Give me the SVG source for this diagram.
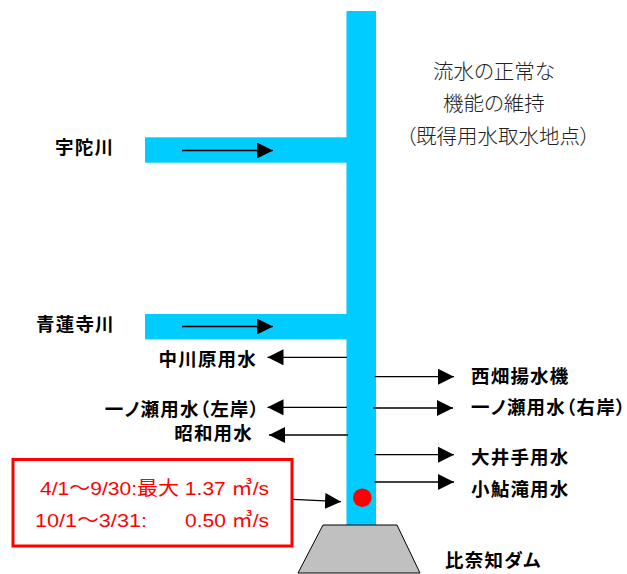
<svg xmlns="http://www.w3.org/2000/svg" width="627" height="574" viewBox="0 0 627 574">
<style>
.river{fill:#00ccff}
.lbl{font-family:"Noto Sans CJK JP","Liberation Sans",sans-serif;font-size:18.5px;letter-spacing:1.2px;font-weight:bold;fill:#000;font-feature-settings:"palt"}
.note{font-family:"Noto Sans CJK JP","Liberation Serif",serif;font-size:20.5px;font-weight:300;fill:#222;font-feature-settings:"palt"}
.red{font-family:"Liberation Sans","Noto Sans CJK JP",sans-serif;font-size:19px;fill:#ff0000}
.arr{stroke:#000;stroke-width:1.3;fill:none;marker-end:url(#ah)}
</style>
<defs>
<marker id="ah" markerUnits="userSpaceOnUse" markerWidth="17" markerHeight="17" refX="16" refY="8" orient="auto">
<path d="M0,0 L16,8 L0,16 z" fill="#000"/>
</marker>
</defs>
<g id="main-river">
<rect class="river" x="346.5" y="11" width="29.5" height="514"/>
</g>
<g id="udagawa">
<rect class="river" x="145" y="137.3" width="203" height="25.4"/>
<text class="lbl" x="55" y="154">宇陀川</text>
</g>
<g id="shorenjigawa">
<rect class="river" x="145" y="314" width="203" height="25.4"/>
<text class="lbl" x="36" y="331">青蓮寺川</text>
</g>
<g id="note">
<text class="note" x="494" y="78.5" text-anchor="middle">流水の正常な</text>
<text class="note" x="494" y="111" text-anchor="middle">機能の維持</text>
<text class="note" x="498" y="143.5" text-anchor="middle">（既得用水取水地点）</text>
</g>
<g id="nakagawara"><text class="lbl" x="257" y="366" text-anchor="end">中川原用水</text></g>
<g id="ichinose-left"><text class="lbl" x="260" y="416" text-anchor="end">一ノ瀬用水（左岸）</text></g>
<g id="showa"><text class="lbl" x="253" y="439.5" text-anchor="end">昭和用水</text></g>
<g id="nishihata"><text class="lbl" x="471" y="382.5">西畑揚水機</text></g>
<g id="ichinose-right"><text class="lbl" x="471" y="414">一ノ瀬用水（右岸）</text></g>
<g id="oide"><text class="lbl" x="471" y="463.5">大井手用水</text></g>
<g id="koayutaki"><text class="lbl" x="471" y="495.5">小鮎滝用水</text></g>
<g id="flow-box">
<rect x="13" y="459.5" width="279" height="86.5" fill="#fff" stroke="#ff0000" stroke-width="3"/>
<text class="red" y="495"><tspan x="40" textLength="229" lengthAdjust="spacingAndGlyphs">4/1～9/30:最大 1.37 ㎥/s</tspan></text>
<text class="red" y="527"><tspan x="35" textLength="112" lengthAdjust="spacingAndGlyphs">10/1～3/31:</tspan><tspan x="185" textLength="84" lengthAdjust="spacingAndGlyphs">0.50 ㎥/s</tspan></text>
</g>
<g id="point">
<circle cx="362.3" cy="497.7" r="9.3" fill="#ff0000"/>
</g>
<g id="dam">
<polygon points="323,525 397,525 420,573 298,573" fill="#c0c0c0" stroke="#000" stroke-width="1"/>
<text class="lbl" x="445" y="567">比奈知ダム</text>
</g>
<g id="connectors">
<line class="arr" x1="182" y1="150.5" x2="273" y2="150.5"/>
<line class="arr" x1="182" y1="326.5" x2="273" y2="326.5"/>
<line class="arr" x1="347" y1="357.3" x2="267.5" y2="357.3"/>
<line class="arr" x1="347" y1="407.3" x2="267.5" y2="407.3"/>
<line class="arr" x1="348" y1="435" x2="269" y2="435"/>
<line class="arr" x1="374.5" y1="376.7" x2="454" y2="376.7"/>
<line class="arr" x1="373" y1="408" x2="453" y2="408"/>
<line class="arr" x1="374.5" y1="454.7" x2="454" y2="454.7"/>
<line class="arr" x1="374.5" y1="482" x2="454" y2="482"/>
<line class="arr" x1="293" y1="499.3" x2="341" y2="501.7"/>
</g>
</svg>
